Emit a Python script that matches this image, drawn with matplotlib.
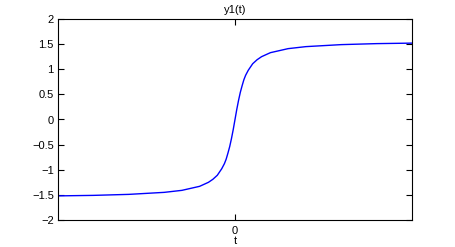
import matplotlib
matplotlib.use("Agg")
import matplotlib.pyplot as plt

plt.rcParams['font.family'] = ['Liberation Sans', 'DejaVu Sans']

t_neg = [-20, -16, -12, -10, -8, -6, -5, -4, -3, -2.5, -2, -1.5, -1.2, -1, -0.8, -0.6, -0.4, -0.2]
y_neg = [-1.52, -1.51, -1.49, -1.47, -1.45, -1.41, -1.37, -1.33, -1.25, -1.19, -1.11, -0.98, -0.88, -0.79, -0.67, -0.54, -0.38, -0.20]
t = t_neg + [0] + [-v for v in reversed(t_neg)]
y = y_neg + [0] + [-v for v in reversed(y_neg)]

yticks = [-2, -1.5, -1, -0.5, 0, 0.5, 1, 1.5, 2]
ytick_labels = ['\u22122', '\u22121.5', '\u22121', '\u22120.5', '0', '0.5', '1', '1.5', '2']
xticks = [0]
xtick_labels = ['0']

fig = plt.figure(figsize=(4.55, 2.47), dpi=100)
ax = fig.add_axes([58/455, 27/247, 354/455, 201/247])
ax.plot(t, y, color='#0000ff', linewidth=1.0)
ax.set_xlim(-20, 20)
ax.set_ylim(-2, 2)
ax.set_yticks(yticks)
ax.set_yticklabels(ytick_labels)
ax.set_xticks(xticks)
ax.set_xticklabels(xtick_labels)
ax.tick_params(direction='in', top=True, right=True, length=4, width=0.8, labelsize=8, pad=3)
ax.tick_params(axis='x', pad=4)
for s in ax.spines.values():
    s.set_linewidth(0.8)
ax.set_title('y1(t)', fontsize=8, pad=4)
ax.set_xlabel('t', fontsize=8, labelpad=0)
fig.savefig('out.png', dpi=100)
